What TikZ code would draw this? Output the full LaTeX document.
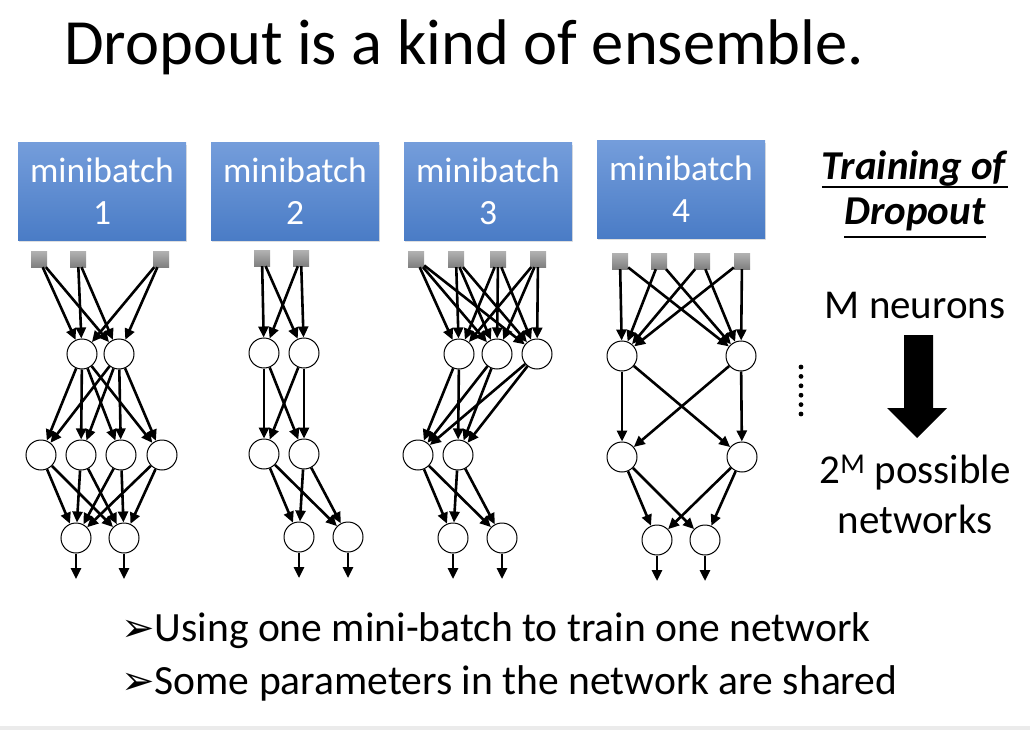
\documentclass[tikz,border=0pt]{standalone}
\usepackage{fontspec}
\setmainfont{Carlito}
\newfontfamily\symfont{DejaVu Sans}
\usetikzlibrary{arrows.meta,shadows}

\definecolor{boxtop}{RGB}{116,157,219}
\definecolor{boxbot}{RGB}{74,124,198}

\tikzset{
  neuron/.style={circle, draw, line width=1pt, fill=white, minimum size=30pt, inner sep=0pt},
  inbox/.style={rectangle, top color=black!30, bottom color=black!50, minimum size=16pt, inner sep=0pt},
  batch/.style={rectangle, top color=boxtop, bottom color=boxbot, minimum width=168pt, minimum height=97pt,
    inner sep=0pt, text=white, align=center, font=\fontsize{35.5}{42}\selectfont,
    drop shadow={opacity=0.25, shadow xshift=1pt, shadow yshift=-2pt}},
  wire/.style={-{Triangle[length=11pt,width=10pt]}, line width=2.6pt},
  side/.style={anchor=base, inner sep=0pt, font=\fontsize{41}{41}\selectfont},
  uline/.style={line width=2pt},
  bullet/.style={anchor=base west, inner sep=0pt, font=\fontsize{41.6}{41.6}\selectfont},
}

\begin{document}
\begin{tikzpicture}[x=1pt, y=-1pt]
  \useasboundingbox (0,0) rectangle (1030,730);
  \fill[black!8] (0,726) rectangle (1030,730);

  \node[anchor=base west, inner sep=0pt, font=\fontsize{64.5}{64.5}\selectfont] (title) at (64,65) {Dropout is a kind of ensemble.};

  % minibatches
  \foreach \n/\x/\y in {1/102/191.5, 2/295/191.5, 3/488/191.5, 4/681/189.5}
    \node[batch] (mb\n) at (\x,\y) {minibatch\\\n};

  % networks: name / inputs / hidden 1 / hidden 2 / outputs / shift
  \foreach \n/\ins/\hs/\gs/\os/\d in {
      a/{39,78,161}/{82,119}/{41,81,121,162}/{76,124}/0,
      b/{262,301}/{264,304}/{264,304}/{299,348}/-1,
      c/{416,456,498,538}/{459,497,537}/{418,458}/{453,502}/0,
      d/{620,659,702,742}/{622,741}/{622,742}/{657,705}/2}{
    \foreach \x [count=\i] in \ins \node[inbox] (\n-i\i) at (\x,259+\d) {};
    \foreach \x [count=\i] in \hs \node[neuron] (\n-h\i) at (\x,354+\d) {};
    \foreach \x [count=\i] in \gs \node[neuron] (\n-g\i) at (\x,455+\d) {};
    \foreach \x [count=\i] in \os {
      \node[neuron] (\n-o\i) at (\x,538+\d) {};
      \coordinate (\n-e\i) at (\x,579+\d);
      \draw[wire] (\n-o\i) -- (\n-e\i);
    }
    \foreach \x [count=\i] in \ins \foreach \y [count=\j] in \hs \draw[wire] (\n-i\i) -- (\n-h\j);
    \foreach \x [count=\i] in \hs \foreach \y [count=\j] in \gs \draw[wire] (\n-h\i) -- (\n-g\j);
    \foreach \x [count=\i] in \gs \foreach \y [count=\j] in \os \draw[wire] (\n-g\i) -- (\n-o\j);
  }

  % more networks
  \foreach \k in {0,...,5} \fill (801,367+9.4*\k) circle (2.4pt);

  % training of dropout
  \node[side] (tr1) at (915,180) {\textbf{\textit{Training of}}};
  \node[side] (tr2) at (915,224) {\textbf{\textit{Dropout}}};
  \draw[uline] ([yshift=-7pt]tr1.base west) -- ([yshift=-7pt]tr1.base east);
  \draw[uline] ([yshift=-13pt]tr2.base west) -- ([yshift=-13pt]tr2.base east);
  \node[side] (mneu) at (915,318) {M neurons};
  \node[side] (poss) at (915,483) {2\textsuperscript{M} possible};
  \node[side] (nets) at (915,533) {networks};
  \fill (904,335) -- (933,335) -- (933,408) -- (947,408) -- (917,438) -- (887,408) -- (904,408) -- cycle;

  % bullets
  \node[bullet] (bul1) at (121,641)
    {{\symfont\fontsize{40}{40}\selectfont ➢}Using one mini-batch to train one network};
  \node[bullet] (bul2) at (121,694)
    {{\symfont\fontsize{40}{40}\selectfont ➢}Some parameters in the network are shared};
\end{tikzpicture}
\end{document}
